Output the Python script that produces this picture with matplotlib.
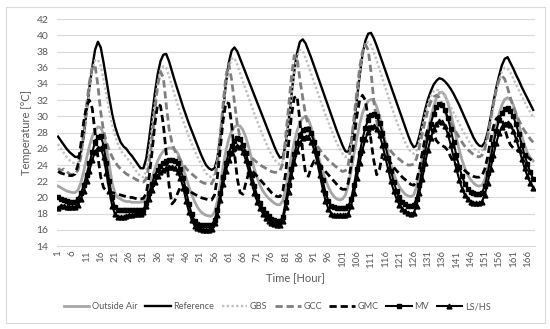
import matplotlib
matplotlib.use("Agg")
import matplotlib.pyplot as plt
from matplotlib.patches import Rectangle
import numpy as np

plt.rcParams['font.family'] = ['Lato', 'DejaVu Sans']

# hourly temperatures [°C], one row per day (24 h)
outside_air = [
    21.4, 21.2, 21.0, 20.8, 20.7, 20.6, 20.6, 20.9, 21.8, 23.2, 24.8, 26.3, 27.5, 28.3, 28.7, 28.6, 27.8, 26.2, 24.0, 21.8, 20.5, 20.0, 19.8, 19.6,
    19.5, 19.5, 19.4, 19.4, 19.4, 19.4, 19.5, 20.0, 21.0, 22.3, 23.5, 24.5, 25.2, 25.7, 26.0, 26.1, 26.1, 25.9, 25.5, 24.7, 23.6, 22.4, 21.3, 20.3,
    19.5, 18.8, 18.3, 18.0, 17.8, 17.7, 17.7, 18.2, 19.5, 21.5, 23.8, 25.8, 27.2, 28.2, 28.7, 28.9, 28.8, 28.3, 27.4, 26.2, 24.8, 23.5, 22.4, 21.5,
    20.8, 20.3, 19.9, 19.6, 19.3, 19.1, 19.1, 19.6, 21.0, 23.0, 25.0, 26.8, 28.2, 29.2, 29.8, 30.0, 29.6, 28.6, 27.2, 25.8, 24.4, 23.2, 22.2, 21.3,
    20.6, 20.1, 19.8, 19.7, 19.8, 20.3, 21.5, 23.3, 25.3, 27.3, 29.0, 30.4, 31.3, 31.9, 32.1, 31.9, 31.2, 30.0, 28.5, 27.0, 25.5, 24.1, 22.9, 22.0,
    21.3, 20.8, 20.4, 20.2, 20.1, 20.3, 21.3, 23.0, 24.8, 26.6, 28.3, 29.8, 31.2, 32.3, 32.9, 33.0, 32.6, 31.7, 30.4, 28.9, 27.3, 25.9, 24.6, 23.6,
    22.8, 22.2, 21.8, 21.5, 21.4, 21.5, 22.2, 23.6, 25.3, 27.1, 28.8, 30.3, 31.4, 32.1, 32.3, 32.1, 31.4, 30.3, 29.0, 27.6, 26.4, 25.5, 24.9, 24.5,
]
reference = [
    27.5, 27.0, 26.5, 26.0, 25.6, 25.3, 25.0, 25.0, 25.5, 27.5, 30.5, 33.5, 36.0, 38.2, 39.2, 38.5, 36.6, 34.5, 32.3, 30.3, 28.8, 27.7, 26.8, 26.3,
    26.0, 25.5, 25.1, 24.6, 24.1, 23.6, 23.6, 24.8, 27.2, 30.0, 32.8, 35.2, 36.8, 37.6, 37.7, 36.8, 35.6, 34.4, 33.3, 32.2, 31.1, 30.1, 29.1, 28.2,
    27.3, 26.4, 25.5, 24.7, 24.0, 23.6, 23.4, 23.6, 24.8, 27.5, 30.8, 34.0, 36.6, 38.1, 38.5, 38.0, 37.1, 36.2, 35.3, 34.4, 33.5, 32.6, 31.7, 30.8,
    29.9, 29.0, 28.1, 27.2, 26.3, 25.5, 24.9, 25.0, 26.5, 29.3, 32.5, 35.5, 37.8, 39.2, 39.5, 39.0, 38.1, 37.2, 36.2, 35.2, 34.2, 33.2, 32.2, 31.2,
    30.2, 29.2, 28.2, 27.3, 26.4, 25.7, 25.6, 26.8, 29.0, 32.0, 35.0, 37.6, 39.3, 40.2, 40.3, 39.6, 38.7, 37.7, 36.7, 35.7, 34.7, 33.7, 32.7, 31.7,
    30.7, 29.7, 28.7, 27.7, 26.8, 26.2, 26.4, 27.6, 29.2, 30.8, 32.1, 33.1, 33.9, 34.4, 34.7, 34.6, 34.3, 33.9, 33.4, 32.8, 32.1, 31.4, 30.6, 29.8,
    29.0, 28.2, 27.4, 26.8, 26.4, 26.3, 26.8, 28.0, 29.8, 31.7, 33.5, 35.0, 36.3, 37.1, 37.3, 36.6, 35.9, 35.1, 34.4, 33.6, 32.9, 32.2, 31.5, 30.8,
]
gbs = [
    26.6, 26.0, 25.5, 25.0, 24.6, 24.3, 24.2, 24.3, 25.0, 27.3, 30.3, 33.2, 35.6, 36.9, 37.0, 36.2, 34.5, 32.6, 30.7, 29.0, 27.7, 26.6, 25.8, 25.3,
    25.0, 24.5, 24.0, 23.5, 23.0, 22.6, 22.5, 23.3, 25.6, 28.5, 31.5, 34.0, 35.6, 36.2, 36.0, 35.0, 33.8, 32.6, 31.5, 30.4, 29.4, 28.4, 27.5, 26.6,
    25.8, 25.0, 24.3, 23.6, 23.0, 22.6, 22.5, 22.9, 24.5, 27.5, 30.8, 33.8, 36.0, 37.1, 37.2, 36.4, 35.3, 34.3, 33.3, 32.3, 31.3, 30.3, 29.4, 28.5,
    27.6, 26.8, 26.0, 25.3, 24.7, 24.3, 24.1, 24.5, 26.3, 29.3, 32.5, 35.3, 37.3, 38.2, 38.1, 37.2, 36.2, 35.2, 34.2, 33.2, 32.2, 31.2, 30.2, 29.3,
    28.4, 27.5, 26.7, 26.0, 25.4, 25.0, 25.2, 26.6, 29.3, 32.4, 35.3, 37.5, 38.8, 39.2, 38.8, 37.9, 36.9, 35.8, 34.7, 33.6, 32.5, 31.4, 30.4, 29.4,
    28.5, 27.6, 26.8, 26.1, 25.6, 25.4, 25.8, 27.0, 28.6, 30.2, 31.5, 32.5, 33.1, 33.3, 33.2, 32.9, 32.4, 31.8, 31.2, 30.5, 29.8, 29.1, 28.4, 27.8,
    27.2, 26.6, 26.1, 25.8, 25.6, 25.7, 26.3, 27.6, 29.3, 31.1, 32.9, 34.4, 35.5, 36.0, 35.9, 35.4, 34.7, 33.9, 33.2, 32.5, 31.8, 31.1, 30.5, 29.9,
]
gcc = [
    23.6, 23.3, 23.5, 23.2, 22.9, 22.8, 22.9, 23.4, 25.0, 28.0, 31.3, 34.2, 36.0, 36.3, 33.8, 30.5, 28.2, 26.8, 25.8, 25.0, 24.4, 23.9, 23.5, 23.2,
    22.9, 22.7, 22.5, 22.3, 22.1, 22.0, 21.9, 22.3, 24.0, 27.0, 30.5, 33.8, 35.5, 34.8, 31.5, 28.5, 26.8, 25.8, 25.1, 24.6, 24.1, 23.6, 23.2, 22.9,
    22.6, 22.3, 22.0, 21.8, 21.7, 21.6, 21.7, 22.4, 24.0, 27.5, 31.5, 35.0, 36.5, 34.5, 31.8, 29.0, 27.3, 26.3, 25.7, 25.3, 24.9, 24.6, 24.3, 24.0,
    23.8, 23.6, 23.4, 23.2, 23.1, 23.1, 23.3, 24.2, 27.5, 31.0, 34.8, 37.5, 37.3, 34.5, 32.3, 30.2, 28.8, 27.8, 27.0, 26.4, 25.9, 25.4, 25.0, 24.6,
    24.3, 24.0, 23.7, 23.4, 23.2, 23.3, 24.0, 26.5, 29.8, 33.0, 36.0, 38.0, 38.9, 38.2, 35.5, 31.8, 29.4, 28.0, 27.3, 26.7, 26.2, 25.7, 25.3, 25.0,
    24.7, 24.4, 24.2, 24.0, 24.0, 24.1, 24.8, 26.2, 27.8, 29.4, 30.8, 31.8, 32.4, 32.6, 32.3, 31.5, 30.6, 29.8, 29.2, 28.6, 28.0, 27.4, 26.8, 26.3,
    25.9, 25.6, 25.3, 25.1, 25.0, 25.2, 26.0, 27.5, 29.5, 31.5, 33.3, 34.5, 35.0, 34.6, 33.5, 32.3, 31.2, 30.3, 29.5, 28.8, 28.2, 27.7, 27.2, 26.8,
]
gmc = [
    23.2, 23.0, 22.9, 22.8, 22.7, 22.7, 22.9, 24.0, 26.5, 29.3, 31.3, 32.0, 31.0, 28.0, 25.0, 22.5, 21.2, 20.8, 20.7, 20.6, 20.5, 20.4, 20.3, 20.2,
    20.1, 20.0, 20.0, 19.9, 19.8, 19.8, 19.9, 20.5, 22.5, 25.5, 29.0, 31.5, 31.3, 29.0, 25.5, 21.5, 19.2, 19.6, 20.5, 21.3, 21.5, 21.2, 20.9, 20.6,
    20.4, 20.2, 20.0, 19.9, 19.8, 19.7, 19.7, 20.3, 22.5, 26.0, 29.5, 31.7, 31.6, 29.0, 25.5, 22.3, 20.6, 20.4, 21.8, 23.0, 23.3, 23.0, 22.6, 22.2,
    21.8, 21.4, 21.0, 20.6, 20.3, 20.1, 20.1, 20.8, 23.0, 26.5, 30.0, 32.3, 32.5, 29.5, 25.5, 23.0, 22.6, 23.8, 24.5, 24.4, 24.0, 23.6, 23.2, 22.8,
    22.4, 22.0, 21.6, 21.2, 21.0, 21.0, 21.8, 24.0, 27.0, 30.0, 32.0, 32.6, 32.0, 29.8, 27.0, 24.5, 22.8, 23.5, 25.3, 25.2, 24.7, 24.2, 23.7, 23.3,
    22.9, 22.5, 22.2, 21.9, 21.6, 21.5, 22.0, 23.5, 25.5, 27.3, 28.5, 28.6, 27.8, 27.0, 26.6, 26.4, 26.2, 25.8, 25.0, 24.3, 24.0, 23.8, 23.6, 23.3,
    23.0, 22.8, 22.6, 22.5, 22.5, 22.7, 23.5, 25.0, 27.0, 28.7, 29.7, 30.0, 29.6, 28.5, 27.3, 26.5, 26.1, 25.9, 25.7, 25.5, 25.3, 25.0, 24.7, 24.4,
]
mv = [
    20.0, 19.8, 19.7, 19.6, 19.5, 19.5, 19.5, 19.8, 20.5, 21.5, 22.8, 24.2, 25.6, 26.8, 27.5, 27.6, 26.4, 24.3, 22.0, 20.0, 18.8, 18.5, 18.4, 18.4,
    18.4, 18.4, 18.4, 18.4, 18.4, 18.4, 18.5, 19.3, 20.5, 21.7, 22.7, 23.4, 23.9, 24.3, 24.5, 24.6, 24.6, 24.5, 24.2, 23.5, 22.4, 20.8, 19.2, 17.9,
    17.1, 16.7, 16.6, 16.6, 16.6, 16.6, 16.6, 17.2, 18.5, 20.5, 22.5, 24.2, 25.5, 26.4, 27.0, 27.3, 27.2, 26.5, 25.5, 24.2, 22.8, 21.4, 20.2, 19.3,
    18.6, 18.1, 17.7, 17.4, 17.2, 17.1, 17.1, 17.6, 19.5, 21.5, 23.5, 25.3, 26.7, 27.7, 28.3, 28.5, 28.4, 27.9, 26.9, 25.5, 23.8, 22.1, 20.6, 19.6,
    19.0, 18.8, 18.7, 18.7, 18.7, 18.7, 18.9, 19.8, 21.5, 23.5, 25.5, 27.2, 28.6, 29.6, 30.2, 30.3, 30.0, 29.2, 28.0, 26.5, 24.9, 23.3, 21.9, 20.8,
    20.0, 19.5, 19.2, 19.0, 19.0, 19.1, 19.8, 21.5, 23.5, 25.6, 27.5, 29.1, 30.3, 31.1, 31.5, 31.4, 30.8, 29.8, 28.4, 26.8, 25.2, 23.8, 22.6, 21.7,
    21.1, 20.7, 20.5, 20.4, 20.4, 20.6, 21.4, 23.0, 24.8, 26.6, 28.2, 29.5, 30.4, 30.9, 31.0, 30.7, 30.0, 29.0, 27.8, 26.5, 25.2, 24.1, 23.1, 22.3,
]
ls_hs = [
    18.7, 19.0, 18.9, 18.8, 18.8, 18.8, 18.8, 19.1, 19.8, 20.8, 22.0, 23.3, 24.6, 25.6, 26.1, 26.1, 25.0, 23.0, 20.8, 19.0, 17.9, 17.6, 17.6, 17.6,
    17.7, 17.8, 17.8, 17.9, 17.9, 18.0, 18.2, 19.0, 19.8, 20.9, 21.9, 22.6, 23.1, 23.4, 23.6, 23.7, 23.7, 23.6, 23.2, 22.4, 21.2, 19.6, 18.2, 17.2,
    16.5, 16.2, 16.1, 16.0, 16.0, 16.0, 16.1, 16.8, 17.8, 19.7, 21.6, 23.3, 24.6, 25.5, 26.1, 26.3, 26.2, 25.6, 24.6, 23.3, 21.9, 20.6, 19.5, 18.7,
    18.0, 17.5, 17.1, 16.9, 16.7, 16.6, 16.6, 17.1, 18.8, 20.7, 22.6, 24.3, 25.7, 26.7, 27.3, 27.5, 27.4, 26.9, 25.9, 24.5, 22.8, 21.1, 19.6, 18.6,
    18.0, 17.8, 17.8, 17.8, 17.8, 17.8, 18.0, 19.0, 20.5, 22.4, 24.3, 25.9, 27.2, 28.1, 28.7, 28.8, 28.5, 27.7, 26.5, 25.0, 23.5, 22.0, 20.8, 19.8,
    19.1, 18.6, 18.3, 18.1, 18.0, 18.1, 19.0, 20.6, 22.3, 24.2, 25.9, 27.3, 28.4, 29.1, 29.4, 29.3, 28.8, 27.8, 26.5, 25.0, 23.5, 22.2, 21.1, 20.3,
    19.8, 19.5, 19.3, 19.3, 19.3, 19.5, 20.3, 21.8, 23.5, 25.2, 26.7, 27.9, 28.7, 29.1, 29.2, 28.9, 28.2, 27.2, 26.0, 24.8, 23.6, 22.6, 21.8, 21.2,
]

hours = np.arange(1, len(reference) + 1)
tick_hours = list(range(1, 168, 5))

fig = plt.figure(figsize=(5.5, 3.29), dpi=100)
ax = fig.add_axes([0.103, 0.252, 0.869, 0.690])

# chart area frame
fig.patches.append(Rectangle((0.011, 0.018), 0.98, 0.961, transform=fig.transFigure,
                             fill=False, edgecolor='#D9D9D9', linewidth=0.8))

ax.plot(hours, outside_air, color='#A6A6A6', lw=2.0, label='Outside Air')
ax.plot(hours, reference, color='black', lw=1.7, label='Reference')
ax.plot(hours, gbs, color='#BFBFBF', lw=1.7, dashes=(1, 1), label='GBS')
ax.plot(hours, gcc, color='#7F7F7F', lw=2.0, dashes=(2.6, 1.4), label='GCC')
ax.plot(hours, gmc, color='black', lw=2.0, dashes=(2.6, 1.4), label='GMC')
ax.plot(hours, mv, color='black', lw=1.5, marker='s', markersize=3, label='MV')
ax.plot(hours, ls_hs, color='black', lw=1.5, marker='^', markersize=3.5, label='LS/HS')

ax.set_xlim(0.5, 168.5)
ax.set_ylim(14, 42)
ax.set_yticks(range(14, 43, 2))
ax.set_xticks(tick_hours)
ax.set_xticklabels([str(h) for h in tick_hours], rotation=90)
ax.tick_params(length=0, labelsize=7, labelcolor='#595959', pad=3)
ax.tick_params(axis='y', labelsize=7.5, pad=6)
ax.grid(axis='y', color='#D9D9D9', lw=0.8)
ax.set_axisbelow(True)
for side in ['top', 'right', 'left']:
    ax.spines[side].set_visible(False)
ax.spines['bottom'].set_color('#D9D9D9')

fig.text(27 / 550, 1 - 132.5 / 329, 'Temperature [°C]', rotation=90, ha='center', va='center',
         fontsize=8, color='#595959')
fig.text(295 / 550, 1 - 278 / 329, 'Time [Hour]', ha='center', va='center',
         fontsize=8, color='#595959')

leg = fig.legend(loc='center', bbox_to_anchor=(0.504, 0.067), ncol=7, frameon=False,
                 fontsize=6.6, handlelength=2.8, handletextpad=0.3, columnspacing=0.8)
for t in leg.get_texts():
    t.set_color('#595959')

fig.savefig('out.png', dpi=100)
